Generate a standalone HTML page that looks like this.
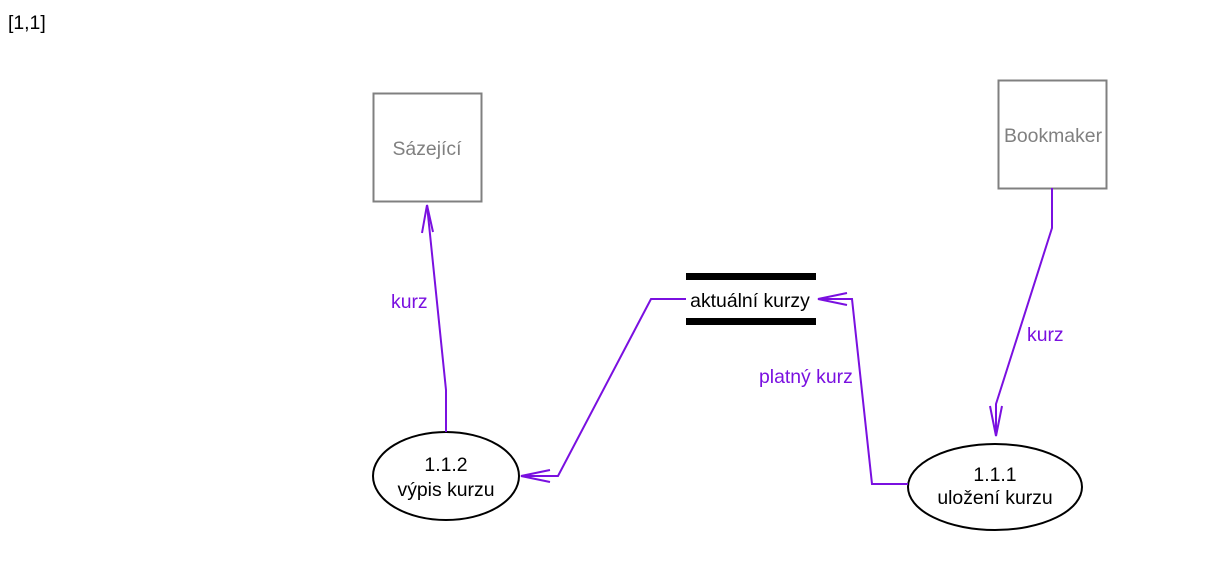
<!DOCTYPE html>
<html><head><meta charset="utf-8"><style>
html,body{margin:0;padding:0;background:#fff;}
svg{display:block;}
text{font-family:"Liberation Sans",sans-serif;font-size:19.4px;}
</style></head><body>
<svg width="1216" height="582" xmlns="http://www.w3.org/2000/svg">
<text x="8" y="29" fill="#000">[1,1]</text>
<rect x="373.5" y="93.5" width="108" height="108" fill="none" stroke="#808080" stroke-width="2"/>
<text x="427" y="155" fill="#808080" text-anchor="middle">Sázející</text>
<rect x="998.5" y="80.5" width="108" height="108" fill="none" stroke="#808080" stroke-width="2"/>
<text x="1053" y="142" fill="#808080" text-anchor="middle">Bookmaker</text>
<rect x="686" y="273" width="130" height="7" fill="#000"/>
<rect x="686" y="318" width="130" height="7" fill="#000"/>
<text x="750" y="307" fill="#000" text-anchor="middle">aktuální kurzy</text>
<ellipse cx="446" cy="476" rx="73" ry="44" fill="none" stroke="#000" stroke-width="2"/>
<text x="446" y="471" text-anchor="middle">1.1.2</text>
<text x="446" y="496" text-anchor="middle">výpis kurzu</text>
<ellipse cx="995" cy="487" rx="87" ry="43" fill="none" stroke="#000" stroke-width="2"/>
<text x="995" y="481" text-anchor="middle">1.1.1</text>
<text x="995" y="504" text-anchor="middle">uložení kurzu</text>
<g fill="none" stroke="#7a10e0" stroke-width="2">
<polyline points="446,432 446,390 427,205"/>
<polyline points="422,233 427,205 433,232"/>
<polyline points="686,299 651,299 558,476 521,476"/>
<polyline points="550,470 521,476 550,482"/>
<polyline points="908,484 872,484 852,299 818,299"/>
<polyline points="847,293 818,299 847,305"/>
<polyline points="1052,188 1052,228 996,404 996,436"/>
<polyline points="990,406 996,436 1002,406"/>
</g>
<g fill="#7a10e0">
<text x="391" y="308">kurz</text>
<text x="759" y="383">platný kurz</text>
<text x="1027" y="341">kurz</text>
</g>
</svg>
</body></html>
